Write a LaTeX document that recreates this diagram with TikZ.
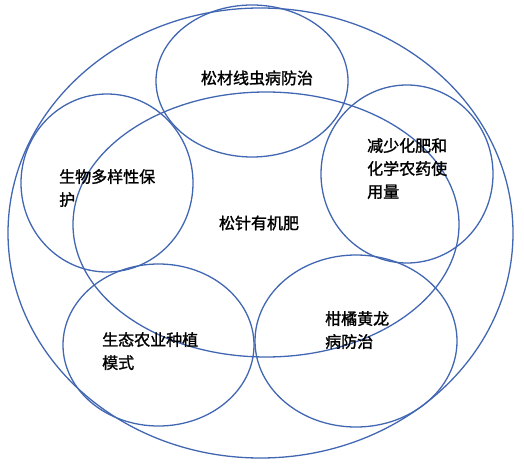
\documentclass[tikz,border=0pt]{standalone}
\usepackage{fontspec}
\newfontfamily\cjk{Noto Sans CJK SC}[AutoFakeBold=1.5]
\usepackage{tikz}
\usetikzlibrary{positioning}
\definecolor{vennblue}{RGB}{66,103,178}

\begin{document}
\begin{tikzpicture}[
  x=1pt, y=-1pt,
  ring/.style={draw=vennblue, line width=1.3pt},
  txt/.style={font=\cjk\bfseries\fontsize{16}{23}\selectfont,
    align=left, inner sep=0pt, anchor=north west},
  core/.style={font=\cjk\bfseries\fontsize{16}{23}\selectfont,
    inner sep=0pt}
]
\useasboundingbox (0,0) rectangle (524,470);

% Rings
\draw[ring] (260.5,233) ellipse [x radius=252.5, y radius=225];
\draw[ring] (266,224.5) ellipse [x radius=193, y radius=132.5];
\draw[ring] (252,81) ellipse [x radius=96, y radius=76];
\draw[ring] (107,183) ellipse [x radius=86, y radius=89];
\draw[ring] (407,174) ellipse [x radius=86, y radius=89];
\draw[ring] (158.5,345) ellipse [x radius=95.5, y radius=81];
\draw[ring] (356,341) ellipse [x radius=101, y radius=86];

% Texts
\node[core] (fert) at (259,223) {松针有机肥};
\node[core] (pine) at (257,78) {松材线虫病防治};
\node[txt] (bio) at (59,169) {生物多样性保\\护};
\node[txt] (chem) at (367,138) {减少化肥和\\化学农药使\\用量};
\node[txt] (eco) at (102,332) {生态农业种植\\模式};
\node[txt] (citrus) at (325,311) {柑橘黄龙\\病防治};
\end{tikzpicture}
\end{document}
